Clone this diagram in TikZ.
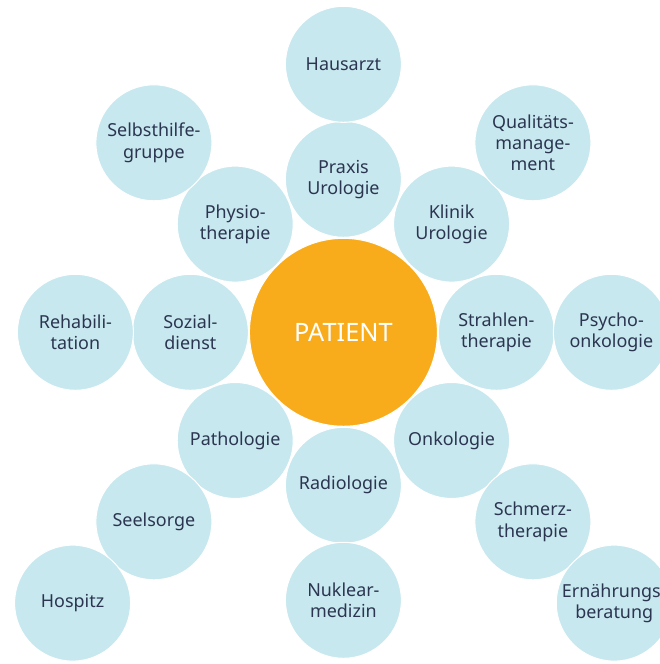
\documentclass[tikz,border=0pt]{standalone}
\usepackage{fontspec}
\setmainfont{Noto Sans}
\usepackage{tikz}
\definecolor{lightBlue}{HTML}{C8E8EF}
\definecolor{patientOrange}{HTML}{F9AC1B}
\definecolor{darkText}{HTML}{2B3550}
\tikzstyle{smallCirc} = [circle, minimum size=2.32cm, inner sep=0pt, fill=lightBlue, draw=white, line width=0.6pt, align=center, text=darkText, font=\fontsize{10.2}{12}\selectfont]
\tikzstyle{bigCirc} = [circle, minimum size=3.76cm, inner sep=0pt, fill=patientOrange, draw=white, line width=0.6pt, text=white, font=\fontsize{14.4}{17}\selectfont]

\begin{document}
\begin{tikzpicture}
				\useasboundingbox (-6.868,-6.634) rectangle (6.332,6.646);
				\node (patient) [bigCirc] at (0,0) {PATIENT};
				% inner ring
				\node (praxis) [smallCirc] at (90:3.06) {Praxis\\Urologie};
				\node (klinik) [smallCirc] at (45:3.06) {Klinik\\Urologie};
				\node (strahlen) [smallCirc] at (0:3.06) {Strahlen-\\therapie};
				\node (onko) [smallCirc] at (-45:3.06) {Onkologie};
				\node (radio) [smallCirc] at (-90:3.06) {Radiologie};
				\node (patho) [smallCirc] at (-135:3.06) {Pathologie};
				\node (sozial) [smallCirc] at (180:3.06) {Sozial-\\dienst};
				\node (physio) [smallCirc] at (135:3.06) {Physio-\\therapie};
				% outer ring
				\node (hausarzt) [smallCirc] at (90:5.36) {Hausarzt};
				\node (quali) [smallCirc] at (45:5.36) {Qualitäts-\\manage-\\ment};
				\node (psycho) [smallCirc] at (0:5.36) {Psycho-\\onkologie};
				\node (schmerz) [smallCirc] at (-45:5.36) {Schmerz-\\therapie};
				\node (nuklear) [smallCirc] at (-90:5.36) {Nuklear-\\medizin};
				\node (seelsorge) [smallCirc] at (-135:5.36) {Seelsorge};
				\node (reha) [smallCirc] at (180:5.36) {Rehabili-\\tation};
				\node (selbst) [smallCirc] at (135:5.36) {Selbsthilfe-\\gruppe};
				% third ring
				\node (ernaehrung) [smallCirc] at (-45:7.66) {Ernährungs-\\beratung};
				\node (hospitz) [smallCirc] at (-135:7.66) {Hospitz};
			\end{tikzpicture}
\end{document}
